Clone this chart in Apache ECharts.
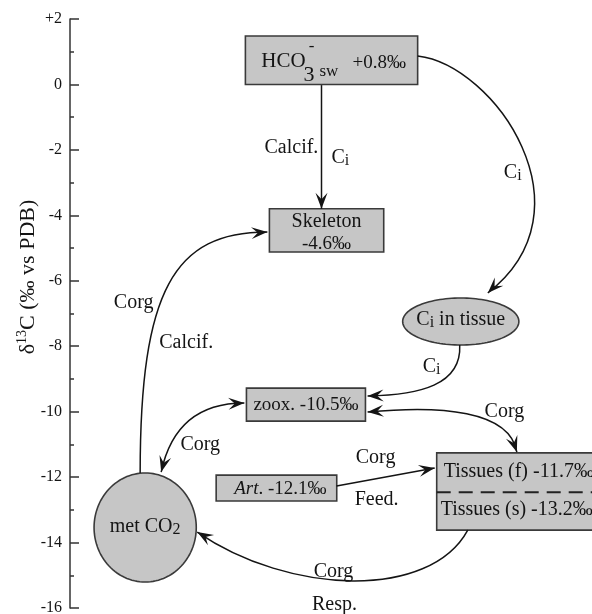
<!DOCTYPE html>
<html><head><meta charset="utf-8">
<script src="https://cdn.jsdelivr.net/npm/echarts@6/dist/echarts.min.js"></script>
<style>html,body{margin:0;padding:0;background:#fff}#c{width:592px;height:614px}</style>
</head><body><div id="c"></div>
<script>
const FONT = '"Liberation Serif","Times New Roman",serif';

// ---- data ----
const axisMin = -16, axisMax = 2, axisStep = 2;
const nodeNames = ['HCO3- sw', 'Skeleton', 'Ci in tissue', 'zoox.', 'Art.', 'Tissues (f)', 'Tissues (s)', 'met CO2'];
const nodeDelta = [0.8, -4.6, null, -10.5, -12.1, -11.7, -13.2, null];
const fluxLabels = ['Calcif.', 'Ci', 'Ci', 'Ci', 'Corg', 'Calcif.', 'Corg', 'Corg', 'Corg', 'Feed.', 'Corg', 'Resp.'];

// ---- layout (axis units: x 0-100, y in permil) ----
const boxLayout = [ // [x1, x2, yTop, yBottom]
  [33.6, 66.6, 1.48, 0.0],     // HCO3
  [38.2, 60.1, -3.80, -5.12],  // Skeleton
  [33.8, 56.6, -9.28, -10.29], // zoox
  [28.0, 51.1, -11.94, -12.73],// Art
  [70.25, 104, -11.26, -13.62] // Tissues
];
const tissueDashY = -12.46;
const ellipseLayout = [ // [cx, cy, rx, ry]
  [74.86, -7.245, 11.13, 0.718], // Ci in tissue
  [14.40, -13.54, 9.79, 1.666]   // met CO2
];
const arrowLayout = [ // points, heads
  {p: [[48.18, -0.02], [48.18, -3.80]], h: 'end'},
  {p: [[66.60, 0.869], [81.38, 0.594], [100.58, -3.837], [80.04, -6.374]], h: 'end'},
  {p: [[74.66, -7.963], [75.05, -9.186], [66.99, -9.491], [57.01, -9.522]], h: 'end'},
  {p: [[17.47, -11.845], [19.39, -10.408], [24.76, -9.736], [33.40, -9.736]], h: 'both'},
  {p: [[57.01, -10.011], [70.83, -9.797], [84.26, -9.950], [85.60, -11.233]], h: 'both'},
  {p: [[51.06, -12.273], [69.87, -11.722]], h: 'end'},
  {p: [[13.44, -11.875], [13.44, -6.282], [19.96, -4.510], [37.81, -4.510]], h: 'end'},
  {p: [[76.20, -13.617], [68.91, -15.757], [42.03, -15.604], [24.38, -13.678]], h: 'end'}
];
const fluxLabelPos = [ // [x, y, align]
  [42.42, -1.943, 'center'], [50.10, -2.248, 'left'], [83.11, -2.707, 'left'], [67.56, -8.636, 'left'],
  [12.19, -6.680, 'center'], [22.26, -7.902, 'center'], [24.95, -11.020, 'center'], [83.21, -10.011, 'center'],
  [58.54, -11.417, 'center'], [58.73, -12.700, 'center'], [50.48, -14.901, 'center'], [50.67, -15.910, 'center']
];

const fmt = v => (v > 0 ? '+' : '') + v.toFixed(1) + '\u2030';
const INK = '#141414', FILL = '#c6c6c6', EDGE = '#3a3a3a';
const mainRich = {
  m: {fontFamily: FONT, fontSize: 20, lineHeight: 22, fill: INK},
  s: {fontFamily: FONT, fontSize: 16, lineHeight: 11, verticalAlign: 'bottom', fill: INK},
  it: {fontFamily: FONT, fontSize: 20, lineHeight: 22, fontStyle: 'italic', fill: INK}
};
function sub(t) {
  if (t === 'Ci') return '{m|C}{s|i}';
  return '{m|' + t + '}';
}

function cubicAt(P, t) {
  const a = (1 - t) ** 3, b = 3 * (1 - t) ** 2 * t, c = 3 * (1 - t) * t * t, d = t ** 3;
  return [a * P[0][0] + b * P[1][0] + c * P[2][0] + d * P[3][0], a * P[0][1] + b * P[1][1] + c * P[2][1] + d * P[3][1]];
}
function head(tip, from) {
  const dx = tip[0] - from[0], dy = tip[1] - from[1], len = Math.hypot(dx, dy) || 1;
  const ux = dx / len, uy = dy / len, nx = -uy, ny = ux, L = 16, W = 12;
  return {type: 'polygon', shape: {points: [
    [tip[0], tip[1]],
    [tip[0] - L * ux + W / 2 * nx, tip[1] - L * uy + W / 2 * ny],
    [tip[0] - 0.6 * L * ux, tip[1] - 0.6 * L * uy],
    [tip[0] - L * ux - W / 2 * nx, tip[1] - L * uy - W / 2 * ny]
  ]}, style: {fill: INK}};
}

function renderItem(params, api) {
  const c = p => api.coord(p);
  const ch = [];
  boxLayout.forEach(b => {
    const p1 = c([b[0], b[2]]), p2 = c([b[1], b[3]]);
    ch.push({type: 'rect', shape: {x: p1[0], y: p1[1], width: p2[0] - p1[0], height: p2[1] - p1[1]},
      style: {fill: FILL, stroke: EDGE, lineWidth: 1.6}});
  });
  {
    const b = boxLayout[4];
    const p1 = c([b[0], tissueDashY]), p2 = c([b[1], tissueDashY]);
    ch.push({type: 'line', shape: {x1: p1[0], y1: p1[1], x2: p2[0], y2: p2[1]},
      style: {stroke: '#222', lineWidth: 2, lineDash: [14, 8]}});
  }
  ellipseLayout.forEach(e => {
    const ctr = c([e[0], e[1]]), ed = c([e[0] + e[2], e[1] - e[3]]);
    const rx = ed[0] - ctr[0], ry = ed[1] - ctr[1], pts = [];
    for (let i = 0; i < 120; i++) { const a = i / 120 * Math.PI * 2; pts.push([ctr[0] + rx * Math.cos(a), ctr[1] + ry * Math.sin(a)]); }
    ch.push({type: 'polygon', shape: {points: pts}, style: {fill: FILL, stroke: EDGE, lineWidth: 1.6}});
  });
  arrowLayout.forEach(a => {
    const P = a.p.map(c);
    if (P.length === 2) {
      ch.push({type: 'line', shape: {x1: P[0][0], y1: P[0][1], x2: P[1][0], y2: P[1][1]}, style: {stroke: INK, lineWidth: 1.5}});
      ch.push(head(P[1], P[0]));
      if (a.h === 'both') ch.push(head(P[0], P[1]));
    } else {
      ch.push({type: 'bezierCurve', shape: {x1: P[0][0], y1: P[0][1], cpx1: P[1][0], cpy1: P[1][1], cpx2: P[2][0], cpy2: P[2][1], x2: P[3][0], y2: P[3][1]},
        style: {stroke: INK, lineWidth: 1.5, fill: null}});
      ch.push(head(P[3], cubicAt(P, 0.9)));
      if (a.h === 'both') ch.push(head(P[0], cubicAt(P, 0.1)));
    }
  });
  fluxLabels.forEach((t, i) => {
    const lp = fluxLabelPos[i], p = c([lp[0], lp[1]]);
    ch.push({type: 'text', style: {text: sub(t), x: p[0], y: p[1], align: lp[2], verticalAlign: 'middle', rich: mainRich}});
  });
  const txt = (s, x, y, size, align, extra) => {
    const p = c([x, y]);
    ch.push({type: 'text', style: Object.assign({text: s, x: p[0], y: p[1], fill: INK, fontFamily: FONT, fontSize: size, align: align || 'center', verticalAlign: 'middle'}, extra || {})});
  };
  txt('HCO', 36.66, 0.716, 21, 'left');
  txt('3', 44.72, 0.28, 22, 'left');
  txt('-', 46.30, 1.144, 17, 'center');
  txt('sw', 47.79, 0.40, 17, 'left');
  txt(fmt(nodeDelta[0]), 54.13, 0.655, 19, 'left');
  txt(nodeNames[1], 49.14, -4.204, 20);
  txt(fmt(nodeDelta[1]), 49.14, -4.877, 19);
  {
    const p = c([ellipseLayout[0][0], ellipseLayout[0][1] + 0.05]);
    ch.push({type: 'text', style: {text: '{m|C}{s|i}{m| in tissue}', x: p[0], y: p[1], align: 'center', verticalAlign: 'middle', rich: mainRich}});
  }
  txt(nodeNames[3] + ' ' + fmt(nodeDelta[3]), 45.2, -9.80, 19);
  {
    const p = c([40.31, -12.36]);
    ch.push({type: 'text', style: {text: '{it|Art}{m|. ' + fmt(nodeDelta[4]) + '}', x: p[0], y: p[1], align: 'center', verticalAlign: 'middle',
      rich: {it: Object.assign({}, mainRich.it, {fontSize: 19}), m: Object.assign({}, mainRich.m, {fontSize: 19})}}});
  }
  txt(nodeNames[5] + ' ' + fmt(nodeDelta[5]), 71.59, -11.845, 20, 'left');
  txt(nodeNames[6] + ' ' + fmt(nodeDelta[6]), 71.02, -13.006, 20, 'left');
  {
    const p = c([ellipseLayout[1][0], ellipseLayout[1][1] + 0.03]);
    ch.push({type: 'text', style: {text: '{m|met CO}{s|2}', x: p[0], y: p[1], align: 'center', verticalAlign: 'middle', rich: mainRich}});
  }
  return {type: 'group', children: ch};
}

const chart = echarts.init(document.getElementById('c'), null, {renderer: 'canvas'});
chart.setOption({
  animation: false,
  backgroundColor: '#fff',
  grid: {left: 70, right: 0, top: 19, bottom: 6, containLabel: false, outerBoundsMode: 'none'},
  xAxis: {type: 'value', min: 0, max: 100, show: false},
  yAxis: {
    type: 'value', min: axisMin, max: axisMax, interval: axisStep,
    axisLine: {show: true, lineStyle: {color: '#333', width: 1.5}},
    axisTick: {show: true, inside: true, length: 9, lineStyle: {color: '#333', width: 1.5}},
    minorTick: {show: true, splitNumber: 2, length: 4, lineStyle: {color: '#333', width: 1.5}},
    splitLine: {show: false}, minorSplitLine: {show: false},
    axisLabel: {fontFamily: FONT, fontSize: 16, color: '#141414', margin: 8,
      formatter: v => (v > 0 ? '+' + v : String(v))}
  },
  graphic: [{
    type: 'text', x: 28, y: 277, rotation: Math.PI / 2,
    style: {text: '{m|\u03b4}{p|13}{m|C (\u2030 vs PDB)}', align: 'center', verticalAlign: 'middle',
      rich: {m: {fontFamily: FONT, fontSize: 22, lineHeight: 26, fill: '#141414'},
             p: {fontFamily: FONT, fontSize: 14, lineHeight: 14, verticalAlign: 'top', fill: '#141414'}}}
  }],
  series: [{type: 'custom', coordinateSystem: 'cartesian2d', clip: false, silent: true, data: [[0, 0]], renderItem: renderItem}]
});
</script></body></html>
